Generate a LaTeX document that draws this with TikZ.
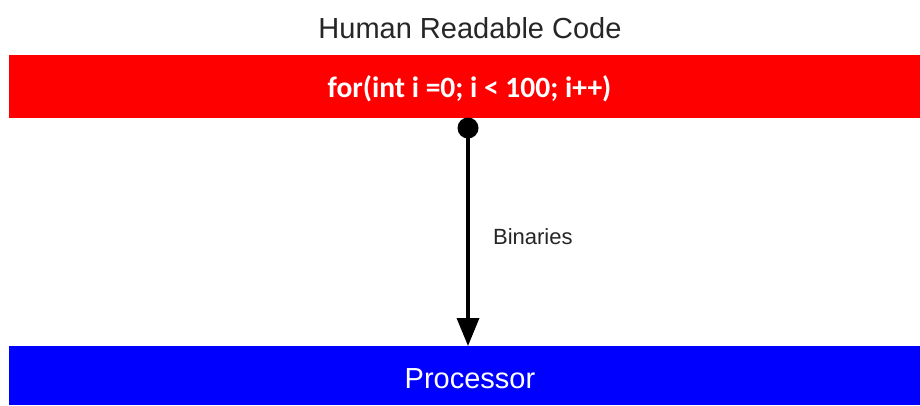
\documentclass[tikz,border=0pt]{standalone}
\usepackage{fontspec}
\setmainfont{Liberation Sans}
\newfontfamily\codefont{Carlito}
\usetikzlibrary{arrows.meta}
\begin{document}
\begin{tikzpicture}[x=1pt,y=-1pt,
  bar/.style={anchor=north west,inner sep=0pt,outer sep=0pt},
  conn/.style={line width=3.5pt,-{Triangle[length=28pt,width=22pt]}}]
\useasboundingbox[fill=white] (0,0) rectangle (920,405);
\node[bar,fill=red,minimum width=911pt,minimum height=63pt] (code) at (9,55) {};
\node[bar,fill=blue,minimum width=911pt,minimum height=59pt] (proc) at (9,346) {};
\node[text=black!85,font=\fontsize{29}{32}\selectfont] (title) at (470,28) {Human Readable Code};
\node[text=white,font=\codefont\bfseries\fontsize{29.5}{32}\selectfont] (codetext) at (469.5,89) {for(int i =0; i < 100; i++)};
\node[text=white,font=\fontsize{29}{32}\selectfont] (proctext) at (470,379) {Processor};
\coordinate (src) at (468,128);
\coordinate (dst) at (468,346);
\fill[black] (src) circle (10.5);
\draw[conn] (src) -- (dst) node[pos=0.5,right=20pt,text=black!85,font=\fontsize{22}{24}\selectfont] (bin) {Binaries};
\end{tikzpicture}
\end{document}
